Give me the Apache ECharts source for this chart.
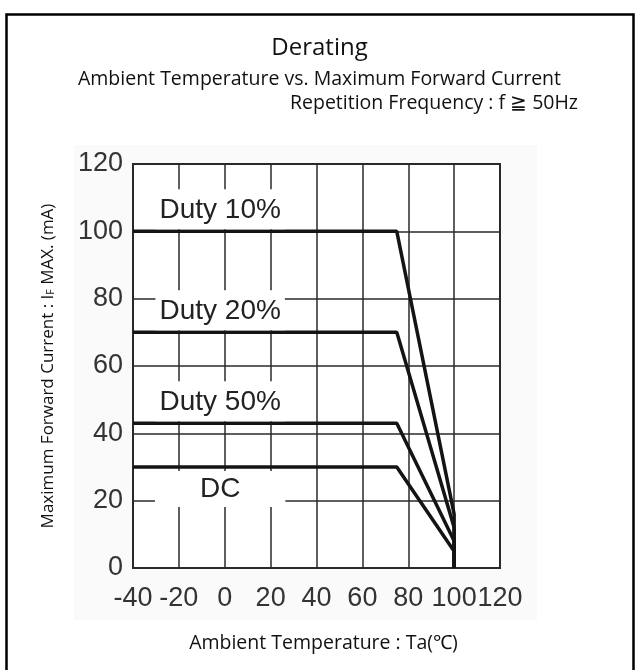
<!DOCTYPE html>
<html>
<head>
<meta charset="utf-8">
<script src="https://cdn.jsdelivr.net/npm/echarts@6/dist/echarts.min.js"></script>
<style>
html,body{margin:0;padding:0;background:#fff;}
#chart{width:639px;height:670px;}
</style>
</head>
<body>
<div id="chart"></div>
<script>
// ---- data ----
const xTicks = [-40, -20, 0, 20, 40, 60, 80, 100, 120];
const yTicks = [0, 20, 40, 60, 80, 100, 120];
const seriesNames = ['Duty 10%', 'Duty 20%', 'Duty 50%', 'DC'];
const tempPoints = [-40, 75, 100, 100];
const duty10 = [100, 100, 16, 0];
const duty20 = [70, 70, 12, 0];
const duty50 = [43, 43, 8, 0];
const dcValues = [30, 30, 5, 0];

const titleText = 'Derating';
const subText1 = 'Ambient Temperature vs. Maximum Forward Current';
const subText2 = 'Repetition Frequency : f \u2267 50Hz';
const xName = 'Ambient Temperature : Ta(\u2103)';

const chart = echarts.init(document.getElementById('chart'), null, {renderer: 'canvas'});

const tickFont = "'Liberation Sans',Arial,sans-serif";
const titleFont = "'Open Sans',Lato,sans-serif";
const LABEL_X = -2;

function makeSeries(name, vals, labelPos) {
  const isTop = labelPos === 'top';
  return {
    name: name,
    type: 'line',
    data: tempPoints.map((t, i) => [t, vals[i]]),
    symbol: 'none',
    lineStyle: {color: '#141414', width: 3.5},
    z: 3,
    markPoint: {
      symbol: 'rect',
      symbolSize: 0,
      silent: true,
      data: [{coord: [LABEL_X, vals[0]]}],
      label: {
        show: true,
        position: labelPos,
        distance: isTop ? 2 : 4,
        formatter: name,
        fontFamily: tickFont,
        fontSize: 28,
        lineHeight: 34,
        color: '#222',
        backgroundColor: '#fff',
        padding: isTop ? [4, 4, 2, 4] : [1, 45, 1, 45]
      }
    }
  };
}

const option = {
  backgroundColor: '#fff',
  animation: false,
  graphic: [
    {type: 'rect', z: -10, shape: {x: 74, y: 145, width: 463, height: 475}, style: {fill: '#fafafa'}, silent: true},
    {type: 'rect', z: 100, shape: {x: 6.5, y: 14.5, width: 627, height: 700}, style: {fill: 'none', stroke: '#000', lineWidth: 2.5}, silent: true}
  ],
  title: [
    {text: titleText, left: 'center', top: 36, padding: [0, 0, 0, 10], textStyle: {fontFamily: titleFont, fontSize: 24, fontWeight: 'normal', color: '#111'}},
    {text: subText1, left: 'center', top: 69, padding: [0, 0, 0, 8], textStyle: {fontFamily: titleFont, fontSize: 19.5, fontWeight: 'normal', color: '#111'}},
    {text: subText2, right: 61, top: 93, padding: 0, textStyle: {fontFamily: titleFont, fontSize: 19.5, fontWeight: 'normal', color: '#111'}}
  ],
  grid: {
    left: 133, right: 139, top: 164, bottom: 102,
    show: true, borderColor: '#2a2a2a', borderWidth: 2, backgroundColor: '#fff'
  },
  xAxis: {
    type: 'value',
    min: xTicks[0], max: xTicks[xTicks.length - 1], interval: 20,
    name: xName, nameLocation: 'middle', nameGap: 65,
    nameTextStyle: {fontFamily: titleFont, fontSize: 19.5, color: '#111', padding: [0, 0, 0, 14]},
    axisLine: {show: false}, axisTick: {show: false},
    axisLabel: {fontFamily: tickFont, fontSize: 27, color: '#333', margin: 17, hideOverlap: false},
    splitLine: {show: true, lineStyle: {color: '#2a2a2a', width: 1.5}}
  },
  yAxis: {
    type: 'value',
    min: yTicks[0], max: yTicks[yTicks.length - 1], interval: 20,
    name: '{a|Maximum Forward Current : I}{s|F}{a| MAX. (mA)}',
    nameLocation: 'middle', nameRotate: 90, nameGap: 76,
    nameTextStyle: {
      color: '#111',
      rich: {
        a: {fontFamily: titleFont, fontSize: 17, lineHeight: 20, verticalAlign: 'bottom', color: '#111'},
        s: {fontFamily: titleFont, fontSize: 10.5, lineHeight: 10, verticalAlign: 'bottom', color: '#111'}
      }
    },
    axisLine: {show: false}, axisTick: {show: false},
    axisLabel: {fontFamily: tickFont, fontSize: 27, color: '#333', margin: 10, hideOverlap: false},
    splitLine: {show: true, lineStyle: {color: '#2a2a2a', width: 1.5}}
  },
  series: [
    makeSeries(seriesNames[0], duty10, 'top'),
    makeSeries(seriesNames[1], duty20, 'top'),
    makeSeries(seriesNames[2], duty50, 'top'),
    makeSeries(seriesNames[3], dcValues, 'bottom')
  ]
};
chart.setOption(option);
</script>
</body>
</html>
